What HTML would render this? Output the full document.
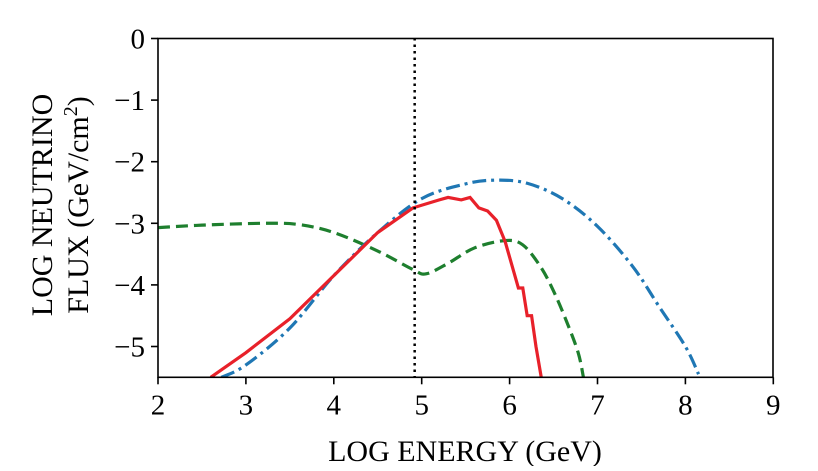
<!DOCTYPE html>
<html><head><meta charset="utf-8"><style>
body{margin:0;background:#fff;width:818px;height:466px;overflow:hidden}
text{font-family:"Liberation Serif",serif;fill:#000}
</style></head><body>
<svg id="c" width="818" height="466"></svg>
<script>
const xTicks=[2,3,4,5,6,7,8,9];
const yTicks=[0,-1,-2,-3,-4,-5];
const yTickLabels=["0","\u22121","\u22122","\u22123","\u22124","\u22125"];
const redX=[2.6,3,3.5,4,4.5,4.9,5.2,5.3,5.45,5.55,5.65,5.75,5.85,5.95,6.05,6.1,6.15,6.2,6.25,6.3,6.36];
const redY=[-5.5,-5.1,-4.55,-3.85,-3.15,-2.75,-2.62,-2.58,-2.62,-2.58,-2.75,-2.8,-2.95,-3.3,-3.8,-4.05,-4.05,-4.5,-4.5,-5.0,-5.5];
const blueX=[2.72,3.0,3.5,4,4.5,5,5.5,5.85,6.2,6.6,7,7.4,7.7,8.0,8.15];
const blueY=[-5.5,-5.3,-4.7,-3.85,-3.15,-2.6,-2.36,-2.3,-2.35,-2.6,-3.05,-3.7,-4.35,-5.0,-5.45];
const greenX=[2,2.5,3.2,3.6,4,4.5,4.9,5.05,5.3,5.6,5.95,6.15,6.35,6.5,6.65,6.78,6.84];
const greenY=[-3.07,-3.03,-3.0,-3.02,-3.15,-3.45,-3.75,-3.82,-3.65,-3.4,-3.28,-3.35,-3.7,-4.1,-4.6,-5.1,-5.5];
const vLine=4.92;
const NS="http://www.w3.org/2000/svg";
const svg=document.getElementById('c');
const X=v=>158+(v-2)*87.9;
const Y=v=>38.5-v*61.6;
function mk(t,a){const e=document.createElementNS(NS,t);for(const k in a)e.setAttribute(k,a[k]);svg.appendChild(e);return e;}
const clip=mk('clipPath',{id:'cp'});
const r=document.createElementNS(NS,'rect');r.setAttribute('x',158);r.setAttribute('y',38);r.setAttribute('width',615);r.setAttribute('height',Y(-5.5)-38);clip.appendChild(r);
function smooth(pts){
  let d='M'+pts[0][0]+','+pts[0][1];
  for(let i=0;i<pts.length-1;i++){
    const p0=pts[Math.max(0,i-1)],p1=pts[i],p2=pts[i+1],p3=pts[Math.min(pts.length-1,i+2)];
    const c1x=p1[0]+(p2[0]-p0[0])/6,c1y=p1[1]+(p2[1]-p0[1])/6;
    const c2x=p2[0]-(p3[0]-p1[0])/6,c2y=p2[1]-(p3[1]-p1[1])/6;
    d+=' C'+c1x+','+c1y+' '+c2x+','+c2y+' '+p2[0]+','+p2[1];
  }
  return d;
}
function line(xs,ys,col,dash,name,sm){
  const pts=xs.map((x,i)=>[X(x),Y(ys[i])]);
  const d=sm?smooth(pts):'M'+pts.map(p=>p.join(',')).join(' L');
  const p=mk('path',{d:d,fill:'none',stroke:col,'stroke-width':3.2,'stroke-dasharray':dash,'clip-path':'url(#cp)'});
  
  
}
line(greenX,greenY,'#1e7f2e','12 6','green-dashed-series',true);
line(blueX,blueY,'#1f77b4','14 5 3 5','blue-dashdot-series',true);
line(redX,redY,'#e8212a','none','red-solid-series',false);
const vl=mk('line',{x1:X(vLine),x2:X(vLine),y1:38,y2:Y(-5.5),stroke:'#000','stroke-width':2.5,'stroke-dasharray':'2.5 4'});


const fr=mk('rect',{x:158,y:38.5,width:615,height:Y(-5.5)-38.5,fill:'none',stroke:'#000','stroke-width':1.6});


xTicks.forEach(v=>{
  const t=mk('line',{x1:X(v),x2:X(v),y1:Y(-5.5),y2:Y(-5.5)+7,stroke:'#000','stroke-width':1.6});
  
  
  const l=mk('text',{x:X(v),y:Y(-5.5)+37,'text-anchor':'middle','font-size':29});
  l.textContent=v;
  
  
});
yTicks.forEach((v,i)=>{
  const t=mk('line',{x1:151,x2:158,y1:Y(v),y2:Y(v),stroke:'#000','stroke-width':1.6});
  
  
  const l=mk('text',{x:145,y:Y(v)+10,'text-anchor':'end','font-size':29});
  l.textContent=yTickLabels[i];
  
  
});
const xt=mk('text',{x:465,y:461,'text-anchor':'middle','font-size':30});
xt.textContent='LOG ENERGY (GeV)';


const yt=mk('text',{x:0,y:0,'text-anchor':'middle','font-size':30,transform:'translate(52,205) rotate(-90)'});


yt.innerHTML='<tspan x="0" dy="0">LOG NEUTRINO</tspan><tspan x="0" dy="36">FLUX (GeV/cm<tspan dy="-11" font-size="20">2</tspan><tspan dy="11">)</tspan></tspan>';
</script>
</body></html>
